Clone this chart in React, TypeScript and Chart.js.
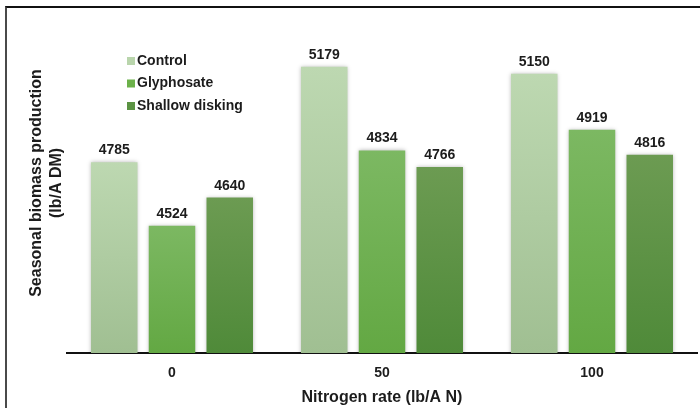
import React, { useEffect, useRef } from "react";
import { Chart, registerables } from "chart.js";

Chart.register(...registerables);

const categories = ["0", "50", "100"];
const seriesNames = ["Control", "Glyphosate", "Shallow disking"];
const controlValues = [4785, 5179, 5150];
const glyphosateValues = [4524, 4834, 4919];
const shallowDiskingValues = [4640, 4766, 4816];
const yMin = 4000;
const yMax = 5400;
const yTitle = ["Seasonal biomass production", "(lb/A DM)"];
const xTitle = "Nitrogen rate (lb/A N)";

const FONT = "'Liberation Sans', Arial, Helvetica, sans-serif";
const TEXT = "#1c1c1c";

const gradTop = ["#bdd8b1", "#7cb862", "#6c9b52"];
const gradBottom = ["#a0bf92", "#63a843", "#4f8a39"];
const legendColors = ["#b9d5ac", "#6cb14a", "#5b9343"];

function makeGradient(top: string, bottom: string) {
  return (ctx: any) => {
    const chart = ctx.chart;
    const area = chart.chartArea;
    if (!area || ctx.type !== "data" || !chart.scales || !chart.scales.y) return top;
    const yTop = chart.scales.y.getPixelForValue(ctx.raw);
    const g = chart.ctx.createLinearGradient(0, yTop, 0, area.bottom);
    g.addColorStop(0, top);
    g.addColorStop(1, bottom);
    return g;
  };
}

const decorPlugin = {
  id: "decor",
  beforeDatasetsDraw(chart: any) {
    const c = chart.ctx;
    c.save();
    c.shadowColor = "rgba(0,0,0,0.28)";
    c.shadowBlur = 4;
    c.shadowOffsetX = 0;
    c.shadowOffsetY = 0;
  },
  afterDatasetsDraw(chart: any) {
    const c = chart.ctx;
    c.restore();
    c.save();
    c.fillStyle = TEXT;
    c.font = `bold 14px ${FONT}`;
    c.textAlign = "center";
    c.textBaseline = "alphabetic";
    chart.data.datasets.forEach((ds: any, i: number) => {
      const meta = chart.getDatasetMeta(i);
      meta.data.forEach((el: any, j: number) => {
        c.fillText(String(ds.data[j]), el.x, el.y - 8);
      });
    });
    c.restore();
  },
  afterDraw(chart: any) {
    const c = chart.ctx;
    const area = chart.chartArea;
    c.save();
    c.font = `bold 14px ${FONT}`;
    c.textAlign = "left";
    c.textBaseline = "middle";
    const x0 = area.left + 60;
    const y0 = area.top + 48;
    chart.data.datasets.forEach((ds: any, i: number) => {
      const y = y0 + i * 22.5;
      c.fillStyle = legendColors[i];
      c.fillRect(x0, y - 4, 8, 8);
      c.fillStyle = TEXT;
      c.fillText(ds.label, x0 + 10, y);
    });
    c.restore();
  },
};

export default function App() {
  const ref = useRef<HTMLCanvasElement | null>(null);

  useEffect(() => {
    if (!ref.current) return;
    const seriesValues = [controlValues, glyphosateValues, shallowDiskingValues];
    const chart = new Chart(ref.current, {
      type: "bar",
      data: {
        labels: categories,
        datasets: seriesNames.map((name, i) => ({
          label: name,
          data: seriesValues[i],
          backgroundColor: makeGradient(gradTop[i], gradBottom[i]),
          borderWidth: 0,
          categoryPercentage: 0.825,
          barPercentage: 0.805,
        })),
      },
      options: {
        animation: false,
        responsive: false,
        devicePixelRatio: 1,
        layout: { padding: { top: 13, right: 3, left: 0, bottom: 0 } },
        plugins: {
          legend: { display: false },
          tooltip: { enabled: false },
        },
        scales: {
          x: {
            grid: { display: false, drawTicks: false },
            border: { display: true, color: "#111", width: 2 },
            ticks: {
              color: TEXT,
              font: { family: FONT, size: 14, weight: "bold" },
              padding: 12,
            },
            title: {
              display: true,
              text: xTitle,
              color: TEXT,
              font: { family: FONT, size: 16, weight: "bold", lineHeight: 1.25 },
              padding: 0,
            },
            afterFit: (s: any) => {
              s.height = 55;
            },
          },
          y: {
            min: yMin,
            max: yMax,
            grid: { display: false, drawTicks: false },
            border: { display: false },
            ticks: { display: false },
            title: {
              display: true,
              text: yTitle,
              color: TEXT,
              font: { family: FONT, size: 16, weight: "bold", lineHeight: 1.25 },
              padding: { top: 27, bottom: 0 },
            },
            afterFit: (s: any) => {
              s.width = 67;
            },
          },
        },
      } as any,
      plugins: [decorPlugin],
    });
    return () => chart.destroy();
  }, []);

  return (
    <div
      style={{
        position: "absolute",
        left: 0,
        top: 0,
        width: 700,
        height: 408,
        overflow: "hidden",
        background: "#fff",
      }}
    >
      <div
        style={{
          position: "absolute",
          left: 5,
          top: 6,
          width: 800,
          height: 600,
          borderLeft: "2px solid #4a4a4a",
          borderTop: "2px solid #111",
        }}
      />
      <canvas
        ref={ref}
        width={700}
        height={408}
        style={{ position: "absolute", left: 0, top: 0, width: 700, height: 408 }}
      />
    </div>
  );
}
